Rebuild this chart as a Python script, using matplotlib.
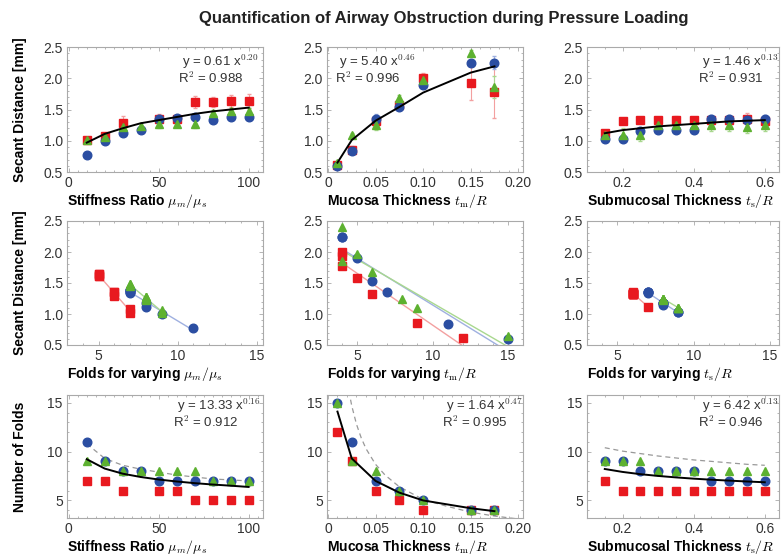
import numpy as np
import matplotlib
matplotlib.use("Agg")
import matplotlib.pyplot as plt
from matplotlib.ticker import MultipleLocator, FuncFormatter

plt.rcParams["font.family"] = ["Liberation Sans", "DejaVu Sans"]
plt.rcParams["mathtext.fontset"] = "cm"

nan = np.nan

# ---------------------------------------------------
# data
# ---------------------------------------------------

# stiffness ratio mu_m / mu_s
stiff_x = [10, 20, 30, 40, 50, 60, 70, 80, 90, 100]
stiff_sec_red = [1.02, 1.08, 1.29, nan, 1.35, 1.35, 1.62, 1.62, 1.64, 1.64]
stiff_sec_red_err = [0.03, 0.03, 0.10, nan, 0.08, 0.07, 0.10, 0.08, 0.10, 0.11]
stiff_sec_blue = [0.78, 1.00, 1.12, 1.18, 1.35, 1.36, 1.38, 1.34, 1.38, 1.38]
stiff_sec_blue_err = [0.02, 0.03, 0.05, 0.04, 0.05, 0.06, 0.04, 0.04, 0.04, 0.04]
stiff_sec_green = [1.02, 1.06, 1.22, 1.24, 1.27, 1.27, 1.27, 1.45, 1.48, 1.48]
stiff_sec_green_err = [0.03, 0.04, 0.05, 0.05, 0.06, 0.05, 0.06, 0.05, 0.05, 0.05]
stiff_sec_fit = [0.97, 1.11, 1.20, 1.28, 1.33, 1.38, 1.43, 1.47, 1.50, 1.53]
stiff_folds_red = [7, 7, 6, nan, 6, 6, 5, 5, 5, 5]
stiff_folds_blue = [11, 9, 8, 8, 7, 7, 7, 7, 7, 7]
stiff_folds_green = [9, 9, 8, 8, 8, 8, 8, 7, 7, 7]
stiff_folds_fit = [9.22, 8.26, 7.74, 7.40, 7.14, 6.94, 6.77, 6.63, 6.51, 6.38]
stiff_folds_dash = [10.8, 9.3, 8.6, 8.2, 7.9, 7.6, 7.4, 7.2, 7.1, 7.0]

# mucosa thickness t_m / R
muc_x = [0.01, 0.025, 0.05, 0.075, 0.1, 0.15, 0.175]
muc_sec_red = [0.62, 0.86, 1.32, 1.58, 2.00, 1.93, 1.78]
muc_sec_red_err = [0.03, 0.06, 0.06, 0.05, 0.08, 0.27, 0.42]
muc_sec_blue = [0.60, 0.84, 1.35, 1.54, 1.90, 2.25, 2.25]
muc_sec_blue_err = [0.02, 0.03, 0.08, 0.04, 0.05, 0.05, 0.10]
muc_sec_green = [0.65, 1.10, 1.25, 1.68, 1.97, 2.40, 1.86]
muc_sec_green_err = [0.03, 0.03, 0.08, 0.05, 0.05, 0.05, 0.18]
muc_sec_fit = [0.65, 1.01, 1.32, 1.54, 1.77, 2.09, 2.19]
muc_folds_red = [12, 9, 6, 5, 4, 4, 4]
muc_folds_blue = [15, 11, 7, 6, 5, 4, 4]
muc_folds_green = [15, 9, 8, 6, 5, 4, 4]
muc_folds_fit = [14.1, 9.3, 7.0, 5.8, 5.0, 4.2, 3.9]
muc_dash_x = [0.022, 0.025, 0.03, 0.035, 0.04, 0.05, 0.06, 0.075, 0.1, 0.125, 0.15, 0.175, 0.2]
muc_dash_y = [16.2, 14.7, 12.8, 11.4, 10.3, 8.7, 7.6, 6.4, 5.1, 4.4, 3.8, 3.4, 3.1]

# submucosal thickness t_s / R
sub_x = [0.15, 0.2, 0.25, 0.3, 0.35, 0.4, 0.45, 0.5, 0.55, 0.6]
sub_sec_red = [1.12, 1.32, 1.34, 1.34, 1.33, 1.33, 1.33, 1.33, 1.35, 1.32]
sub_sec_red_err = [0.04, 0.03, 0.03, 0.04, 0.06, 0.04, 0.05, 0.06, 0.10, 0.05]
sub_sec_blue = [1.03, 1.03, 1.15, 1.18, 1.17, 1.17, 1.35, 1.35, 1.34, 1.35]
sub_sec_blue_err = [0.05, 0.05, 0.05, 0.05, 0.05, 0.05, 0.07, 0.07, 0.06, 0.06]
sub_sec_green = [1.10, 1.10, 1.10, 1.25, 1.25, 1.25, 1.25, 1.25, 1.22, 1.25]
sub_sec_green_err = [0.08, 0.10, 0.10, 0.08, 0.08, 0.08, 0.10, 0.10, 0.10, 0.10]
sub_sec_fit = [1.12, 1.17, 1.20, 1.23, 1.25, 1.27, 1.29, 1.31, 1.32, 1.33]
sub_folds_red = [7, 6, 6, 6, 6, 6, 6, 6, 6, 6]
sub_folds_blue = [9, 9, 8, 8, 8, 8, 7, 7, 7, 7]
sub_folds_green = [9, 9, 9, 8, 8, 8, 8, 8, 8, 8]
sub_folds_fit = [8.22, 7.92, 7.69, 7.51, 7.36, 7.23, 7.12, 7.03, 6.94, 6.86]
sub_folds_dash = [10.4, 10.05, 9.8, 9.55, 9.35, 9.15, 9.0, 8.85, 8.7, 8.6]

fit_sec_text = [("0.61", "0.20", "0.988"), ("5.40", "0.46", "0.996"), ("1.46", "0.13", "0.931")]
fit_folds_text = [("13.33", "0.16", "0.912"), ("1.64", "0.47", "0.995"), ("6.42", "0.13", "0.946")]

x_labels = [r"Stiffness Ratio $\mu_m/\mu_s$",
            r"Mucosa Thickness $t_\mathrm{m}/R$",
            r"Submucosal Thickness $t_\mathrm{s}/R$"]
fold_labels = [r"Folds for varying $\mu_m/\mu_s$",
               r"Folds for varying $t_\mathrm{m}/R$",
               r"Folds for varying $t_\mathrm{s}/R$"]

RED, BLUE, GREEN = "#e8191f", "#2b4ea2", "#5db130"
LRED, LBLUE, LGREEN = "#f3a0a0", "#9fb0e0", "#a9d88f"

# ---------------------------------------------------
# layout (pixels)
# ---------------------------------------------------
W, H = 782, 558
fig = plt.figure(figsize=(W / 100, H / 100), dpi=100)

lefts = [67, 327, 587]
widths = [196, 196, 192]
rows = [(47, 172), (221, 345), (395, 518)]


def add_ax(row, col):
    t, b = rows[row]
    return fig.add_axes([lefts[col] / W, 1 - b / H, widths[col] / W, (b - t) / H])


def style(ax, xlim, ylim, xmaj, xmin, ymaj, ymin, xfmt=None, yfmt=None):
    ax.set_xlim(*xlim)
    ax.set_ylim(*ylim)
    ax.xaxis.set_major_locator(MultipleLocator(xmaj))
    ax.xaxis.set_minor_locator(MultipleLocator(xmin))
    ax.yaxis.set_major_locator(MultipleLocator(ymaj))
    ax.yaxis.set_minor_locator(MultipleLocator(ymin))
    if xfmt:
        ax.xaxis.set_major_formatter(FuncFormatter(xfmt))
    if yfmt:
        ax.yaxis.set_major_formatter(FuncFormatter(yfmt))
    for s in ax.spines.values():
        s.set_color("#aaaaaa")
        s.set_linewidth(0.8)
    ax.tick_params(which="both", direction="in", top=True, right=True,
                   color="#aaaaaa", width=0.6)
    ax.tick_params(which="major", length=3, labelsize=10, labelcolor="#333333", pad=3)
    ax.tick_params(which="minor", length=1.5)


def fmt_muc(v, pos):
    return "0" if abs(v) < 1e-9 else f"{v:.2f}"


def fmt_1(v, pos):
    return f"{v:.1f}"


def fmt_int(v, pos):
    return f"{v:.0f}"


x_sets = [stiff_x, muc_x, sub_x]
sec_sets = [
    (stiff_sec_red, stiff_sec_red_err, stiff_sec_blue, stiff_sec_blue_err,
     stiff_sec_green, stiff_sec_green_err, stiff_sec_fit),
    (muc_sec_red, muc_sec_red_err, muc_sec_blue, muc_sec_blue_err,
     muc_sec_green, muc_sec_green_err, muc_sec_fit),
    (sub_sec_red, sub_sec_red_err, sub_sec_blue, sub_sec_blue_err,
     sub_sec_green, sub_sec_green_err, sub_sec_fit),
]
fold_sets = [
    (stiff_folds_red, stiff_folds_blue, stiff_folds_green, stiff_folds_fit),
    (muc_folds_red, muc_folds_blue, muc_folds_green, muc_folds_fit),
    (sub_folds_red, sub_folds_blue, sub_folds_green, sub_folds_fit),
]
dash_sets = [(stiff_x, stiff_folds_dash), (muc_dash_x, muc_dash_y), (sub_x, sub_folds_dash)]

x_limits = [(-1, 108), (-0.001, 0.205), (0.1, 0.64)]
x_major = [50, 0.05, 0.2]
x_minor = [5, 0.01, 0.05]
x_fmts = [fmt_int, fmt_muc, fmt_1]
fold_xlim = [(3, 15.4), (3, 16), (3, 15.6)]

# text anchor (axes fraction) of the fit annotation, per column
sec_text_pos = [(0.566, 0.88), (0.04, 0.88), (0.58, 0.88)]
fold_text_pos = [(0.54, 0.91), (0.585, 0.91), (0.58, 0.91)]

MS = 6.2
MS_SQ = 5.3

for col in range(3):
    x = np.array(x_sets[col], dtype=float)
    r, re, b, be, g, ge, fit = [np.array(v, dtype=float) for v in sec_sets[col]]
    fr, fb, fg, ffit = [np.array(v, dtype=float) for v in fold_sets[col]]

    # ---------------- row 1: secant distance ----------------
    ax = add_ax(0, col)
    ax.errorbar(x, r, yerr=re, fmt="s", color=RED, ecolor=LRED, ms=MS_SQ,
                elinewidth=0.8, capsize=1.5, zorder=3)
    ax.errorbar(x, b, yerr=be, fmt="o", color=BLUE, ecolor=LBLUE, ms=MS,
                elinewidth=0.8, capsize=1.5, zorder=3)
    ax.errorbar(x, g, yerr=ge, fmt="^", color=GREEN, ecolor=LGREEN, ms=MS,
                elinewidth=0.8, capsize=1.5, zorder=3)
    ax.plot(x, fit, color="black", lw=1.4, zorder=4)
    style(ax, x_limits[col], (0.5, 2.5), x_major[col], x_minor[col], 0.5, 0.1,
          xfmt=x_fmts[col], yfmt=fmt_1)
    ax.set_xlabel(x_labels[col], loc="left", fontsize=10, fontweight="bold", labelpad=1)
    a, e, r2 = fit_sec_text[col]
    tx, ty = sec_text_pos[col]
    ax.text(tx + 0.02, ty, "y = " + a + r" x$^{\mathsf{" + e + "}}$", transform=ax.transAxes,
            fontsize=9.5, color="#333333", va="center")
    ax.text(tx, ty - 0.13, r"R$^{\mathsf{2}}$ = " + r2, transform=ax.transAxes,
            fontsize=9.5, color="#333333", va="center")
    if col == 0:
        ax.set_ylabel("Secant Distance [mm]", fontsize=10, fontweight="bold")
        ax.yaxis.set_label_coords(-0.205, 0.5)

    # ---------------- row 2: secant vs folds ----------------
    ax = add_ax(1, col)
    for folds, sec, c, lc, m, s in [(fr, r, RED, LRED, "s", MS_SQ),
                                    (fb, b, BLUE, LBLUE, "o", MS),
                                    (fg, g, GREEN, LGREEN, "^", MS)]:
        ok = ~np.isnan(folds) & ~np.isnan(sec)
        k, c0 = np.polyfit(folds[ok], sec[ok], 1)
        xs = np.array([folds[ok].min(), folds[ok].max()])
        ax.plot(xs, k * xs + c0, color=lc, lw=1.0, zorder=2)
        ax.plot(folds, sec, m, color=c, ms=s, zorder=3)
    style(ax, fold_xlim[col], (0.5, 2.5), 5, 1, 0.5, 0.1, xfmt=fmt_int, yfmt=fmt_1)
    ax.set_xlabel(fold_labels[col], loc="left", fontsize=10, fontweight="bold", labelpad=1)
    if col == 0:
        ax.set_ylabel("Secant Distance [mm]", fontsize=10, fontweight="bold")
        ax.yaxis.set_label_coords(-0.205, 0.5)

    # ---------------- row 3: number of folds ----------------
    ax = add_ax(2, col)
    dx, dy = dash_sets[col]
    ax.plot(dx, dy, "--", color="#999999", lw=0.9, dashes=(4, 3), zorder=2)
    ax.plot(x, fr, "s", color=RED, ms=MS_SQ, zorder=3)
    ax.plot(x, fb, "o", color=BLUE, ms=MS, zorder=3)
    ax.plot(x, fg, "^", color=GREEN, ms=MS, zorder=3)
    ax.plot(x, ffit, color="black", lw=1.4, zorder=4)
    style(ax, x_limits[col], (3.2, 15.8), x_major[col], x_minor[col], 5, 1,
          xfmt=x_fmts[col], yfmt=fmt_int)
    ax.set_xlabel(x_labels[col], loc="left", fontsize=10, fontweight="bold", labelpad=1)
    a, e, r2 = fit_folds_text[col]
    tx, ty = fold_text_pos[col]
    ax.text(tx + 0.02, ty, "y = " + a + r" x$^{\mathsf{" + e + "}}$", transform=ax.transAxes,
            fontsize=9.5, color="#333333", va="center")
    ax.text(tx, ty - 0.135, r"R$^{\mathsf{2}}$ = " + r2, transform=ax.transAxes,
            fontsize=9.5, color="#333333", va="center")
    if col == 0:
        ax.set_ylabel("Number of Folds", fontsize=10, fontweight="bold")
        ax.yaxis.set_label_coords(-0.205, 0.5)

fig.text(0.568, 0.967, "Quantification of Airway Obstruction during Pressure Loading",
         ha="center", va="center", fontsize=12, fontweight="bold", color="#222222")

fig.savefig("out.png", dpi=100)
